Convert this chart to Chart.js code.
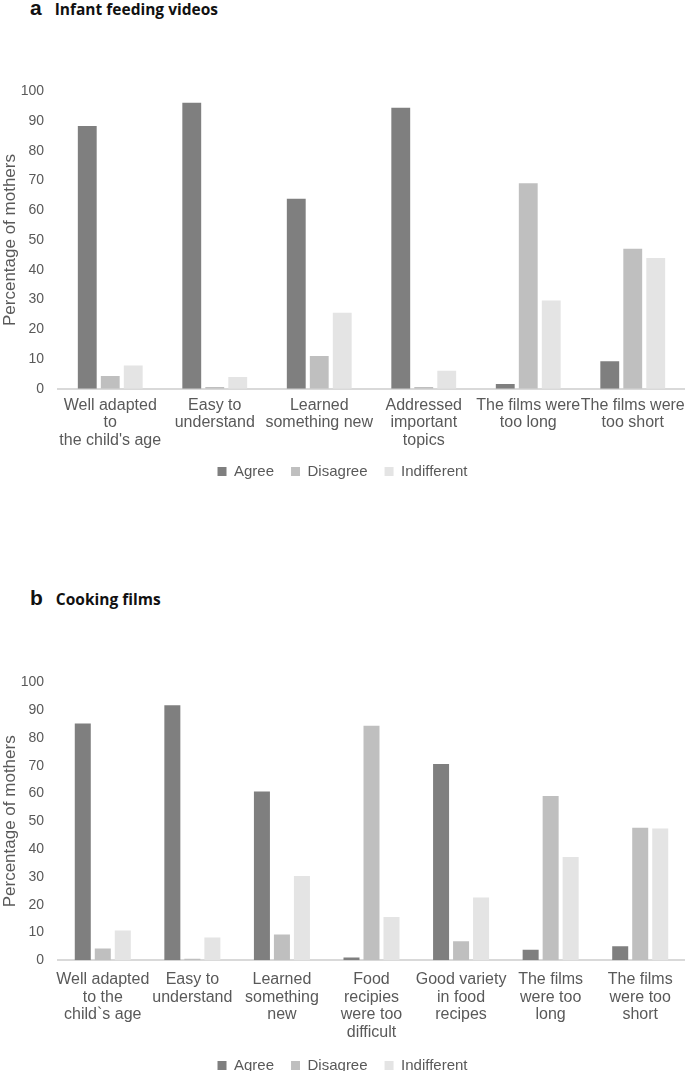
<!DOCTYPE html>
<html>
<head>
<meta charset="utf-8">
<script src="https://cdn.jsdelivr.net/npm/chart.js@4.4.1/dist/chart.umd.min.js"></script>
<style>
  html, body { margin: 0; overflow: hidden; }
  body { background: #fff; width: 685px; height: 1071px; position: relative; font-family: "Liberation Sans", Arial, sans-serif; }
  .head { position: absolute; left: 30px; color: #111; white-space: nowrap; }
  .head b.l { font-family: "Liberation Sans", Arial, sans-serif; font-size: 21px; margin-right: 13px; }
  .head span { font-family: "Open Sans", "Noto Sans", sans-serif; font-size: 15.5px; font-weight: 700; }
  .box { position: absolute; left: 0; width: 685px; }
</style>
</head>
<body>
<div class="head" style="top:-4px"><b class="l">a</b><span>Infant feeding videos</span></div>
<div class="box" style="top:69px;height:430px"><canvas id="chartA"></canvas></div>
<div class="head" style="top:586px"><b class="l">b</b><span>Cooking films</span></div>
<div class="box" style="top:660px;height:434px"><canvas id="chartB"></canvas></div>
<script>
// panel a: infant feeding videos
var labelsA = [
  ["Well adapted", "to", "the child's age"],
  ["Easy to", "understand"],
  ["Learned", "something new"],
  ["Addressed", "important", "topics"],
  ["The films were", "too long"],
  ["The films were", "too short"]
];
var agreeA = [88.4, 96.2, 63.9, 94.5, 1.6, 9.2];
var disagreeA = [4.3, 0.6, 11.0, 0.6, 69.1, 47.1];
var indifferentA = [7.8, 3.9, 25.5, 6.0, 29.7, 44.0];

// panel b: cooking films
var labelsB = [
  ["Well adapted", "to the", "child`s age"],
  ["Easy to", "understand"],
  ["Learned", "something", "new"],
  ["Food", "recipies", "were too", "difficult"],
  ["Good variety", "in food", "recipes"],
  ["The films", "were too", "long"],
  ["The films", "were too", "short"]
];
var agreeB = [85.2, 91.8, 60.7, 1.0, 70.6, 3.8, 5.0];
var disagreeB = [4.2, 0.5, 9.3, 84.4, 6.8, 59.1, 47.7];
var indifferentB = [10.7, 8.2, 30.3, 15.6, 22.6, 37.2, 47.4];

var yTicks = [0, 10, 20, 30, 40, 50, 60, 70, 80, 90, 100];

var colAgree = "#7f7f7f", colDisagree = "#bfbfbf", colIndiff = "#e4e4e4";
var textGrey = "#595959";

// pull the legend up a little, closer to the category labels
var liftLegend = {
  id: "liftLegend",
  afterLayout: function (chart, args, opts) {
    chart.legend.top -= opts.by;
    chart.legend.bottom -= opts.by;
  }
};

function makeChart(id, labels, agree, disagree, indiff, catPct, barPct, labelPad, lift) {
  return new Chart(document.getElementById(id), {
    type: "bar",
    plugins: [liftLegend],
    data: {
      labels: labels,
      datasets: [
        { label: "Agree", data: agree, backgroundColor: colAgree },
        { label: "Disagree", data: disagree, backgroundColor: colDisagree },
        { label: "Indifferent", data: indiff, backgroundColor: colIndiff }
      ]
    },
    options: {
      responsive: true,
      maintainAspectRatio: false,
      animation: false,
      datasets: { bar: { categoryPercentage: catPct, barPercentage: barPct } },
      layout: { padding: { left: 0, right: 0, top: 8, bottom: 0 } },
      plugins: {
        liftLegend: { by: lift },
        legend: {
          position: "bottom",
          labels: { color: textGrey, boxWidth: 9, boxHeight: 9, padding: 17, font: { size: 15, family: "Liberation Sans" } }
        },
        tooltip: { enabled: false }
      },
      scales: {
        x: {
          grid: { display: false, drawTicks: false },
          border: { color: "#d9d9d9", width: 2 },
          ticks: { color: textGrey, maxRotation: 0, autoSkip: false, padding: labelPad, font: { size: 16, family: "Liberation Sans", lineHeight: 1.09 } },
          afterFit: function (s) { s.paddingLeft = 0; s.paddingRight = 0; }
        },
        y: {
          min: 0, max: 100,
          afterBuildTicks: function (axis) { axis.ticks = yTicks.map(function (v) { return { value: v }; }); },
          afterFit: function (s) { s.width = 58; },
          grid: { display: false, drawTicks: false },
          border: { display: false },
          ticks: { color: textGrey, padding: 14, font: { size: 14, family: "Liberation Sans" } },
          title: { display: true, text: "Percentage of mothers", color: textGrey, padding: { top: 0, bottom: 0 }, font: { size: 17, family: "Liberation Sans" } }
        }
      }
    }
  });
}

makeChart("chartA", labelsA, agreeA, disagreeA, indifferentA, 0.66, 0.82, 8, 10);
makeChart("chartB", labelsB, agreeB, disagreeB, indifferentB, 0.67, 0.8, 11, 11);
</script>
</body>
</html>
